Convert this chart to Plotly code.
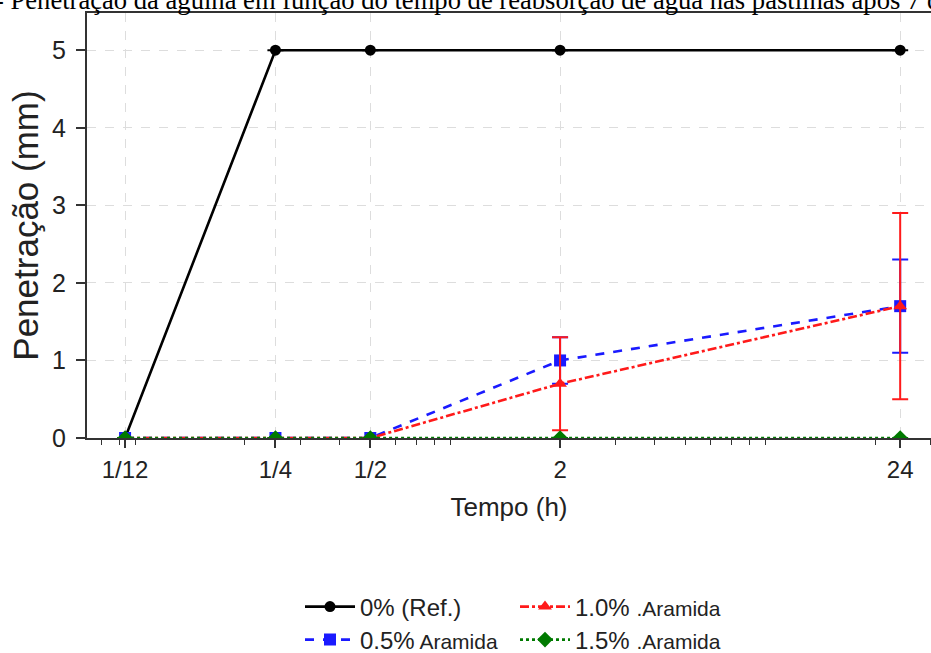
import plotly.graph_objects as go

# ---- data ----
tempo_h = [1/12, 1/4, 1/2, 2, 24]
tick_labels = ["1/12", "1/4", "1/2", "2", "24"]
minor_ticks = [0.07, 0.08, 0.09, 0.2, 0.3, 0.4, 0.6, 0.7, 0.8, 0.9,
               3, 4, 5, 6, 7, 8, 9, 20, 30]

pen_0 = [0, 5, 5, 5, 5]
err_0 = [None, None, None, None, None]

pen_05 = [0, 0, 0, 1.0, 1.7]
err_05 = [None, None, None, 0.3, 0.6]

pen_10 = [0, 0, 0, 0.7, 1.7]
err_10 = [None, None, None, 0.6, 1.2]

pen_15 = [0, 0, 0, 0, 0]
err_15 = [None, None, None, None, None]

names = ["0% (Ref.)",
         "0.5%<span style='font-size:21px'> Aramida</span>",
         "1.0% <span style='font-size:21px'>.Aramida</span>",
         "1.5% <span style='font-size:21px'>.Aramida</span>"]

FONT = "Liberation Sans, Arial, sans-serif"

fig = go.Figure()

def add(y, err, name, color, dash, symbol, msize, legend):
    fig.add_trace(go.Scatter(
        x=tempo_h, y=y, name=name, mode="lines+markers",
        line=dict(color=color, width=2.6, dash=dash),
        marker=dict(color=color, symbol=symbol, size=msize),
        error_y=dict(type="data", array=err, visible=True, color=color,
                     thickness=2, width=8),
        legend=legend,
    ))

add(pen_0, err_0, names[0], "#000000", "solid", "circle", 11, "legend")
add(pen_05, err_05, names[1], "#1a1aff", "dash", "square", 12, "legend2")
add(pen_10, err_10, names[2], "#ff1a1a", "dashdot", "triangle-up", 12, "legend")
add(pen_15, err_15, names[3], "#007a00", "dot", "diamond", 12, "legend2")

W, H = 931, 653
L, R, T, B = 87, 0, 13, 215
pw = W - L - R
ph = H - T - B

def px_x(p):
    return (p - L) / pw

def px_y(p):
    return (H - B - p) / ph

fig.update_layout(
    width=W, height=H,
    margin=dict(l=L, r=R, t=T, b=B, autoexpand=False),
    paper_bgcolor="white", plot_bgcolor="white",
    font=dict(family=FONT, size=24, color="#222222"),
    xaxis=dict(
        type="log", range=[-1.2, 1.478],
        tickvals=tempo_h, ticktext=tick_labels,
        ticks="outside", ticklen=8, tickwidth=1.5, tickcolor="#333333",
        ticklabelstandoff=1,
        showline=True, linecolor="#333333", linewidth=2, mirror=True,
        showgrid=True, gridcolor="#dddddd", griddash="dash", gridwidth=1,
        minor=dict(tickvals=minor_ticks, ticks="outside", ticklen=5,
                   tickwidth=1.2, tickcolor="#333333", showgrid=False),
        title=dict(text="Tempo (h)", font=dict(size=26), standoff=16),
        tickfont=dict(size=24),
        layer="below traces", zeroline=False,
    ),
    yaxis=dict(
        range=[0, 5.48], tickvals=[0, 1, 2, 3, 4, 5],
        ticks="outside", ticklen=9, tickwidth=1.5, tickcolor="#333333",
        ticklabelstandoff=5,
        showline=True, linecolor="#333333", linewidth=2,
        showgrid=True, gridcolor="#dddddd", griddash="dash", gridwidth=1,
        title=dict(text="Penetração (mm)", font=dict(size=35), standoff=3),
        tickfont=dict(size=25),
        zeroline=False, layer="below traces",
    ),
    legend=dict(orientation="h", x=px_x(300), y=px_y(607), xanchor="left",
                yanchor="middle", entrywidth=150, font=dict(size=24),
                bgcolor="rgba(0,0,0,0)", itemwidth=50),
    legend2=dict(orientation="h", x=px_x(300), y=px_y(640), xanchor="left",
                 yanchor="middle", entrywidth=150, font=dict(size=24),
                 bgcolor="rgba(0,0,0,0)", itemwidth=50),
    annotations=[dict(
        text="- Penetração da agulha em função do tempo de reabsorção de água nas pastilhas após 7 dias",
        xref="paper", yref="paper", x=px_x(-7), y=px_y(17),
        xanchor="left", yanchor="bottom", showarrow=False,
        font=dict(family="Liberation Serif, Times New Roman, serif", size=26.6, color="#000000"),
    )],
)

fig.write_html("out.html")
